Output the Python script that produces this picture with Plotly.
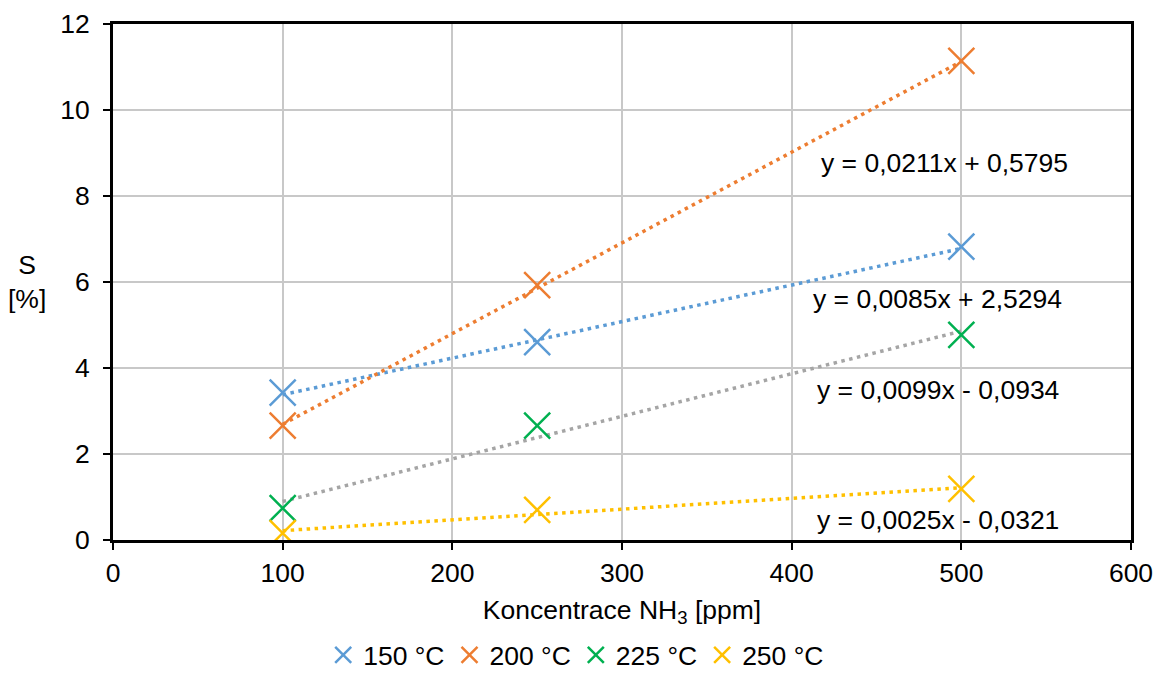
import plotly.graph_objects as go

x_vals = [100, 250, 500]
series_names = ["150 °C", "200 °C", "225 °C", "250 °C"]
s150 = [3.43, 4.60, 6.82]
s200 = [2.66, 5.93, 11.14]
s225 = [0.74, 2.66, 4.77]
s250 = [0.16, 0.70, 1.19]
series_values = [s150, s200, s225, s250]

slopes = [0.0085, 0.0211, 0.0099, 0.0025]
intercepts = [2.5294, 0.5795, -0.0934, -0.0321]
equations = ["y = 0,0085x + 2,5294", "y = 0,0211x + 0,5795",
             "y = 0,0099x - 0,0934", "y = 0,0025x - 0,0321"]
eq_x = [486, 490, 486, 486]
eq_y = [5.6, 8.77, 3.49, 0.465]

marker_colors = ["#5B9BD5", "#ED7D31", "#00B050", "#FFC000"]
trend_colors = ["#5B9BD5", "#ED7D31", "#A5A5A5", "#FFC000"]

FONT = "Liberation Sans, Arial, sans-serif"
FS = 26.5

fig = go.Figure()

# trendlines
for i in range(4):
    xs = [x_vals[0], x_vals[-1]]
    ys = [slopes[i] * xv + intercepts[i] for xv in xs]
    fig.add_trace(go.Scatter(x=xs, y=ys, mode="lines",
                             line=dict(color=trend_colors[i], width=3.5, dash="3.5px,4.5px"),
                             showlegend=False, hoverinfo="skip"))

for i in range(4):
    fig.add_trace(go.Scatter(x=x_vals, y=series_values[i], mode="markers",
                             name=series_names[i],
                             marker=dict(symbol="x-thin", size=26,
                                         line=dict(color=marker_colors[i], width=2.5),
                                         color=marker_colors[i])))

for i in range(4):
    fig.add_annotation(x=eq_x[i], y=eq_y[i], text=equations[i], showarrow=False,
                       font=dict(size=FS, color="black", family=FONT),
                       xanchor="center", yanchor="middle")

fig.add_annotation(xref="paper", yref="paper", x=-0.0845, y=0.5,
                   text="S<br>[%]", showarrow=False,
                   font=dict(size=FS, color="black", family=FONT),
                   xanchor="center", yanchor="middle")

axis_common = dict(showline=True, linecolor="black", linewidth=3, mirror=True,
                   ticks="outside", ticklen=7, tickcolor="black", tickwidth=2,
                   showgrid=True, gridcolor="#C8C8C8", gridwidth=1.5,
                   zeroline=False, automargin=False,
                   tickfont=dict(size=FS, color="black", family=FONT))

fig.update_xaxes(range=[0, 600], dtick=100, **axis_common,
                 title=dict(text="Koncentrace NH<sub>3</sub> [ppm]",
                            font=dict(size=FS, color="black", family=FONT),
                            standoff=14))
fig.update_yaxes(range=[0, 12], dtick=2, ticklabelstandoff=8, **axis_common)

fig.update_layout(
    width=1154, height=692,
    margin=dict(l=113, r=23, t=24, b=152, autoexpand=False),
    paper_bgcolor="white", plot_bgcolor="white",
    font=dict(family=FONT, size=FS, color="black"),
    legend=dict(orientation="h", x=0.455, xanchor="center", y=-0.223, yanchor="middle",
                font=dict(size=FS, color="black", family=FONT),
                itemwidth=30, tracegroupgap=0),
)

fig.write_html("out.html")
